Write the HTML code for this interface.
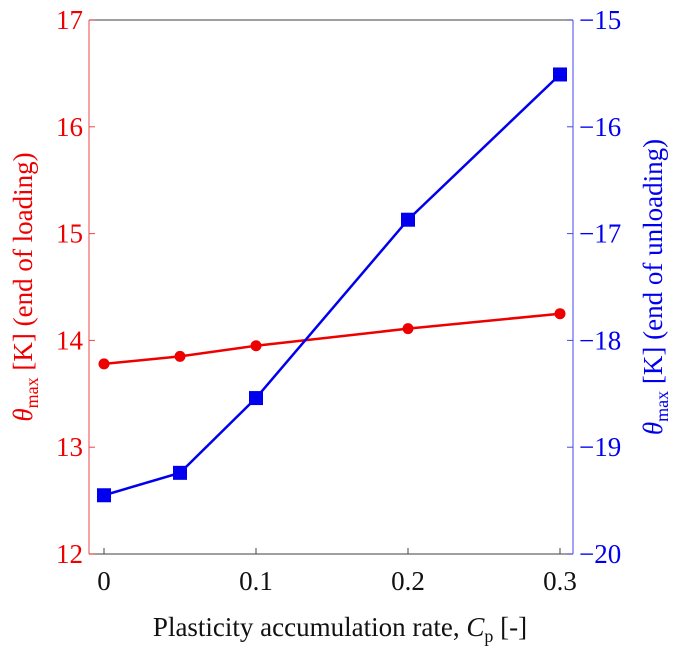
<!DOCTYPE html>
<html><head><meta charset="utf-8"><style>
body{margin:0;background:#fff}
svg{display:block;font-family:"Liberation Serif",serif}
</style></head><body>
<svg id="chart" width="685" height="648" viewBox="0 0 685 648" xmlns="http://www.w3.org/2000/svg"></svg>
<script>
const xValues=[0,0.05,0.1,0.2,0.3];
const redValues=[13.78,13.85,13.95,14.11,14.25];
const blueValues=[-19.45,-19.24,-18.54,-16.87,-15.51];
const xTicks=[0,0.1,0.2,0.3];
const xTickLabels=["0","0.1","0.2","0.3"];
const leftTicks=[12,13,14,15,16,17];
const rightTicks=[-20,-19,-18,-17,-16,-15];
const rightTickLabels=["\u221220","\u221219","\u221218","\u221217","\u221216","\u221215"];

const NS="http://www.w3.org/2000/svg";
const svg=document.getElementById('chart');
const L=89,R=573,T=20,B=554;
const sx=v=>104+(v-0)*(560-104)/0.3;
const syL=v=>B-(v-12)*(B-T)/5;
const syR=v=>B-(v+20)*(B-T)/5;
function mk(tag,attrs,text){const e=document.createElementNS(NS,tag);for(const k in attrs)e.setAttribute(k,attrs[k]);if(text!==undefined)e.textContent=text;svg.appendChild(e);return e;}

let e;
e=mk('line',{x1:L,y1:T,x2:R,y2:T,stroke:'#666','stroke-width':1.2});


e=mk('line',{x1:L,y1:B,x2:R,y2:B,stroke:'#666','stroke-width':1.2});


e=mk('line',{x1:L,y1:T,x2:L,y2:B,stroke:'#e66','stroke-width':1.2});


e=mk('line',{x1:R,y1:T,x2:R,y2:B,stroke:'#66e','stroke-width':1.2});



xTicks.forEach((v,i)=>{
  e=mk('line',{x1:sx(v),y1:B,x2:sx(v),y2:B-6,stroke:'#444','stroke-width':1});
  
  
  e=mk('text',{x:sx(v),y:590,'font-size':27,'text-anchor':'middle',fill:'#111'},xTickLabels[i]);
  
  
});
leftTicks.forEach(v=>{
  e=mk('line',{x1:L,y1:syL(v),x2:L+6,y2:syL(v),stroke:'#e44','stroke-width':1});
  
  
  e=mk('text',{x:L-6,y:syL(v)+9,'font-size':27,'text-anchor':'end',fill:'#e00'},String(v));
  
  
});
rightTicks.forEach((v,i)=>{
  e=mk('line',{x1:R,y1:syR(v),x2:R-6,y2:syR(v),stroke:'#44e','stroke-width':1});
  
  
  e=mk('text',{x:R+6,y:syR(v)+9,'font-size':27,'text-anchor':'start',fill:'#00e'},rightTickLabels[i]);
  
  
});

e=mk('polyline',{points:xValues.map((x,i)=>sx(x)+','+syL(redValues[i])).join(' '),fill:'none',stroke:'#e00','stroke-width':2.5});


xValues.forEach((x,i)=>{
  e=mk('circle',{cx:sx(x),cy:syL(redValues[i]),r:5.5,fill:'#e00'});
  
  
});
e=mk('polyline',{points:xValues.map((x,i)=>sx(x)+','+syR(blueValues[i])).join(' '),fill:'none',stroke:'#00e','stroke-width':2.5});


xValues.forEach((x,i)=>{
  e=mk('rect',{x:sx(x)-7,y:syR(blueValues[i])-7,width:14,height:14,fill:'#00e'});
  
  
});

e=mk('text',{x:340,y:636,'font-size':27,'text-anchor':'middle',fill:'#111'});
e.innerHTML='Plasticity accumulation rate, <tspan font-style="italic">C</tspan><tspan font-size="18" dy="6">p</tspan><tspan dy="-6"> [-]</tspan>';



e=mk('text',{transform:'translate(32,287) rotate(-90)','font-size':27,'text-anchor':'middle',fill:'#e00'});
e.innerHTML='<tspan font-style="italic">θ</tspan><tspan font-size="18" dy="6">max</tspan><tspan dy="-6"> [K] (end of loading)</tspan>';



e=mk('text',{transform:'translate(662,287) rotate(-90)','font-size':27,'text-anchor':'middle',fill:'#00e'});
e.innerHTML='<tspan font-style="italic">θ</tspan><tspan font-size="18" dy="6">max</tspan><tspan dy="-6"> [K] (end of unloading)</tspan>';


</script>
</body></html>
